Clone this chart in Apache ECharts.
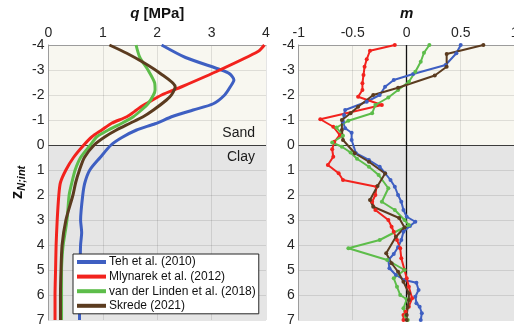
<!DOCTYPE html>
<html>
<head>
<meta charset="utf-8">
<script src="https://cdn.jsdelivr.net/npm/echarts@6/dist/echarts.min.js"></script>
<style>
  html, body { margin: 0; padding: 0; background: #ffffff; }
  #chart { width: 514px; height: 328px; }
</style>
</head>
<body>
<div id="chart"></div>
<script>
// Profile depth z_N;int and the soil layers
const zLimits = [-4, 7];
const interfaceDepth = 0;
const layerNames = ['Sand', 'Clay'];
const qLimits = [0, 4];
const mLimits = [-1, 1];

const seriesNames = ['Teh et al. (2010)', 'Mlynarek et al. (2012)', 'van der Linden et al. (2018)', 'Skrede (2021)'];
const seriesColors = ['#3e5fc2', '#f2221d', '#5dbd4a', '#5b3b1f'];

// q [MPa] profiles
const tehQz = [-4, -3.5, -3, -2.85, -2.6, -2.35, -2, -1.65, -1.4, -1.15, -0.85, -0.6, -0.3, 0, 0.5, 1, 1.5, 2, 3, 3.5, 4, 5, 6, 7];
const tehQ  = [2.08, 2.52, 3.18, 3.33, 3.41, 3.35, 3.24, 3.03, 2.66, 2.29, 1.96, 1.62, 1.35, 1.15, 0.95, 0.76, 0.67, 0.63, 0.59, 0.61, 0.59, 0.58, 0.57, 0.57];
const mlyQz = [-4, -3.75, -3, -2.33, -2, -1.67, -1.53, -1.4, -1.13, -0.87, -0.6, -0.33, 0, 0.5, 1, 1.5, 2, 3, 4, 5, 6, 7];
const mlyQ  = [3.97, 3.86, 3.15, 2.45, 2.08, 1.81, 1.70, 1.62, 1.44, 1.16, 0.98, 0.80, 0.65, 0.46, 0.32, 0.22, 0.19, 0.16, 0.14, 0.13, 0.12, 0.12];
const vdlQz = [-4, -3.5, -3, -2.5, -2.2, -2, -1.65, -1.4, -1.13, -0.87, -0.6, -0.33, 0, 0.5, 1, 1.5, 2, 3, 4, 4.5, 5, 6, 7];
const vdlQ  = [1.61, 1.68, 1.83, 1.95, 1.96, 1.93, 1.83, 1.71, 1.56, 1.35, 1.10, 0.89, 0.77, 0.59, 0.49, 0.43, 0.38, 0.34, 0.27, 0.25, 0.24, 0.24, 0.24];
const skrQz = [-4, -3.67, -3.27, -2.87, -2.33, -2, -1.8, -1.4, -1.13, -0.87, -0.6, -0.33, 0, 0.5, 1, 1.5, 2, 3, 4, 5, 6, 7];
const skrQ  = [1.12, 1.44, 1.77, 2.05, 2.33, 2.26, 2.17, 1.93, 1.74, 1.50, 1.25, 1.04, 0.84, 0.66, 0.57, 0.50, 0.45, 0.32, 0.25, 0.23, 0.22, 0.22];

// m profiles
const tehMz = [-4, -3.67, -3.2, -2.84, -2.6, -2.33, -2, -1.73, -1.4, -1.2, -0.93, -0.67, -0.49, -0.2, 0.33, 0.6, 0.87, 1.13, 1.4, 1.67, 2, 2.27, 2.6, 2.87, 3.07, 3.24, 3.47, 3.8, 4.09, 4.36, 4.6, 4.93, 5.2, 5.4, 5.51, 5.8, 6.07, 6.33, 6.47, 6.73, 7];
const tehM  = [0.50, 0.46, 0.36, 0.06, -0.12, -0.20, -0.25, -0.37, -0.57, -0.58, -0.59, -0.57, -0.51, -0.51, -0.47, -0.35, -0.25, -0.20, -0.15, -0.11, -0.08, -0.05, -0.03, 0.00, 0.08, 0.03, -0.03, -0.05, -0.08, -0.12, -0.17, -0.16, -0.10, -0.02, 0.09, 0.11, 0.08, 0.09, 0.12, 0.14, 0.13];
const mlyMz = [-4, -3.77, -3.43, -3.13, -2.8, -2.47, -2.2, -1.93, -1.6, -1.03, -0.73, -0.4, -0.13, 0.17, 0.47, 0.8, 1.13, 1.4, 1.67, 2, 2.27, 2.6, 3, 3.27, 3.47, 3.8, 4.13, 4.53, 5, 5.33, 5.67, 6.13, 6.47, 6.67, 6.8, 7];
const mlyM  = [-0.11, -0.34, -0.37, -0.39, -0.40, -0.41, -0.41, -0.45, -0.23, -0.80, -0.68, -0.62, -0.67, -0.69, -0.68, -0.73, -0.63, -0.59, -0.28, -0.29, -0.32, -0.29, -0.17, -0.14, -0.12, -0.09, -0.06, -0.05, -0.02, 0.00, 0.02, 0.05, 0.02, -0.01, -0.03, -0.03];
const vdlMz = [-4, -3.69, -3.33, -2.93, -2.53, -2.2, -1.9, -1.6, -1.27, -0.97, -0.7, -0.37, -0.1, 0.07, 0.3, 0.55, 0.87, 1.2, 1.73, 2.27, 2.6, 3, 3.2, 3.8, 4.13, 4.6, 5, 5.33, 5.67, 6, 6.17, 6.53, 6.84, 7];
const vdlM  = [0.21, 0.16, 0.13, 0.08, 0.02, -0.08, -0.17, -0.29, -0.32, -0.54, -0.65, -0.59, -0.69, -0.60, -0.52, -0.46, -0.35, -0.26, -0.17, -0.23, -0.11, -0.02, 0.02, -0.25, -0.54, -0.18, -0.02, -0.12, -0.09, -0.06, 0.00, -0.03, -0.01, 0.01];
const skrMz = [-4, -3.64, -3.13, -2.78, -2.29, -2, -1.53, -1.27, -1, -0.6, -0.2, 0.33, 0.67, 1.14, 1.64, 2.2, 2.47, 2.92, 3.3, 3.67, 4.33, 4.73, 5.07, 5.47, 5.93, 6.2, 6.47, 6.8, 7];
const skrM  = [0.71, 0.37, 0.37, 0.26, -0.08, -0.31, -0.45, -0.52, -0.60, -0.60, -0.59, -0.48, -0.35, -0.20, -0.27, -0.34, -0.31, -0.07, -0.02, -0.10, -0.19, -0.14, -0.08, -0.03, 0.02, 0.02, 0.01, 0.00, 0.00];

const qProfiles = [[tehQ, tehQz], [mlyQ, mlyQz], [vdlQ, vdlQz], [skrQ, skrQz]];
const mProfiles = [[tehM, tehMz], [mlyM, mlyMz], [vdlM, vdlMz], [skrM, skrMz]];

const FONT = 'Liberation Sans';
const pairUp = (vals, zs) => vals.map((v, i) => [v, zs[i]]);

function xAxisFor(gridIndex, lim, interval, name) {
  return {
    gridIndex, type: 'value', position: 'top', min: lim[0], max: lim[1], interval, z: 1.5,
    name, nameLocation: 'middle', nameGap: 24,
    nameTextStyle: {
      fontFamily: FONT, fontSize: 15, fontWeight: 'bold', color: '#111',
      rich: { it: { fontFamily: FONT, fontSize: 15, fontWeight: 'bold', fontStyle: 'italic', color: '#111' },
              b: { fontFamily: FONT, fontSize: 15, fontWeight: 'bold', color: '#111' } }
    },
    axisLine: { show: true, onZero: false, lineStyle: { color: '#9c9c9c', width: 1 } },
    axisTick: { show: false },
    axisLabel: { fontFamily: FONT, fontSize: 14, color: '#262626', margin: 5 },
    splitLine: { show: true, lineStyle: { color: 'rgba(0,0,0,0.1)', width: 1 } }
  };
}
function yAxisFor(gridIndex, withName) {
  const ax = {
    gridIndex, type: 'value', inverse: true, min: zLimits[0], max: zLimits[1], interval: 1, z: 1.5,
    axisLine: { show: true, onZero: false, lineStyle: { color: '#9c9c9c', width: 1 } },
    axisTick: { show: false },
    axisLabel: { fontFamily: FONT, fontSize: 14, color: '#262626', margin: 4 },
    splitLine: { show: true, lineStyle: { color: 'rgba(0,0,0,0.1)', width: 1 } }
  };
  if (withName) {
    ax.name = '{z|z}{s|N;int}';
    ax.nameLocation = 'middle';
    ax.nameRotate = 90;
    ax.nameGap = 21;
    ax.nameTextStyle = {
      rich: {
        z: { fontFamily: FONT, fontSize: 17, fontWeight: 'bold', color: '#111', verticalAlign: 'middle' },
        s: { fontFamily: FONT, fontSize: 11, fontWeight: 'bold', fontStyle: 'italic', color: '#111', verticalAlign: 'bottom', padding: [9, 0, 0, 0] }
      }
    };
  }
  return ax;
}

// Layer shading, layer labels and reference lines for one panel
function backdrop(idx, withLabels, zeroLine) {
  const lbl = (name, pos) => withLabels
    ? { show: true, position: pos, formatter: name, fontFamily: FONT, fontSize: 14, color: '#1a1a1a', distance: 5, offset: [-6, 0] }
    : { show: false };
  const lines = [{ yAxis: interfaceDepth, lineStyle: { color: '#3c3c3c', width: 1, type: 'solid' } }];
  if (zeroLine) lines.push({ xAxis: 0, lineStyle: { color: '#111', width: 1.3, type: 'solid' } });
  return {
    type: 'line', xAxisIndex: idx, yAxisIndex: idx, data: [], silent: true,
    markArea: {
      silent: true,
      data: [
        [{ yAxis: zLimits[0], itemStyle: { color: '#f8f7f0' }, label: lbl(layerNames[0], 'insideBottomRight') },
         { yAxis: interfaceDepth }],
        [{ yAxis: interfaceDepth, itemStyle: { color: '#e5e5e5' }, label: lbl(layerNames[1], 'insideTopRight') },
         { yAxis: zLimits[1] }]
      ]
    },
    markLine: { silent: true, symbol: ['none', 'none'], label: { show: false }, z: 1.6, data: lines }
  };
}

const series = [backdrop(0, true, false), backdrop(1, false, true)];
qProfiles.forEach((p, i) => series.push({
  name: seriesNames[i], type: 'line', xAxisIndex: 0, yAxisIndex: 0,
  data: pairUp(p[0], p[1]), showSymbol: false, smooth: 0.25,
  lineStyle: { color: seriesColors[i], width: 3 }, itemStyle: { color: seriesColors[i] }
}));
mProfiles.forEach((p, i) => series.push({
  name: seriesNames[i], type: 'line', xAxisIndex: 1, yAxisIndex: 1,
  data: pairUp(p[0], p[1]), symbol: 'circle', symbolSize: 4,
  lineStyle: { color: seriesColors[i], width: 2 }, itemStyle: { color: seriesColors[i] }
}));

const chart = echarts.init(document.getElementById('chart'), null, { renderer: 'canvas' });
chart.setOption({
  animation: false,
  backgroundColor: '#ffffff',
  grid: [
    { left: 48.5, top: 45, width: 217.5, height: 275, containLabel: false, outerBoundsMode: 'none' },
    { left: 298.7, top: 45, width: 216, height: 275, containLabel: false, outerBoundsMode: 'none' }
  ],
  xAxis: [
    xAxisFor(0, qLimits, 1, '{it|q}{b| [MPa]}'),
    xAxisFor(1, mLimits, 0.5, '{it|m}')
  ],
  yAxis: [yAxisFor(0, true), yAxisFor(1, false)],
  legend: {
    data: seriesNames, orient: 'vertical', left: 73, top: 254,
    icon: 'rect', itemWidth: 29, itemHeight: 4, itemGap: 2.6,
    padding: [2, 3, 2, 4],
    backgroundColor: '#ffffff', borderColor: '#262626', borderWidth: 1,
    textStyle: { fontFamily: FONT, fontSize: 12, color: '#111', padding: [0, 0, 0, -2] }
  },
  series
});
</script>
</body>
</html>
